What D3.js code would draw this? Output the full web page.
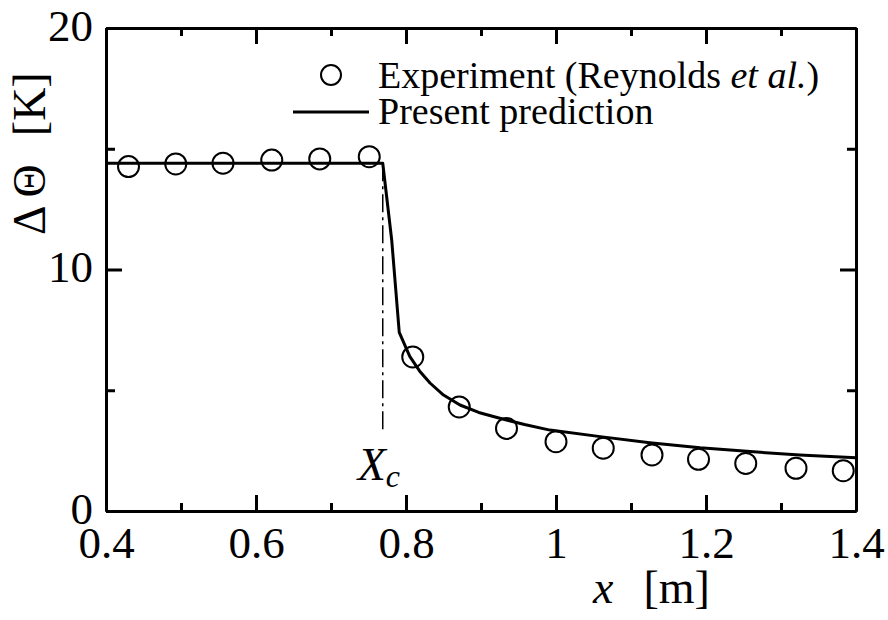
<!DOCTYPE html>
<html>
<head>
<meta charset="utf-8">
<script src="https://cdn.jsdelivr.net/npm/d3@7"></script>
<style>
  html, body { margin: 0; padding: 0; background: #fff; }
  text { font-family: "Liberation Serif", "Times New Roman", serif; fill: #000; }
</style>
</head>
<body>
<div id="chart"></div>
<script>
// experiment (Reynolds et al.)
const expX = [0.430, 0.493, 0.556, 0.621, 0.685, 0.751, 0.809, 0.871, 0.934, 1.000, 1.063, 1.128, 1.190, 1.253, 1.320, 1.383];
const expY = [14.26, 14.37, 14.40, 14.53, 14.58, 14.67, 6.38, 4.31, 3.42, 2.87, 2.60, 2.32, 2.14, 1.97, 1.77, 1.67];
// present prediction
const predX = [0.4, 0.769, 0.781, 0.791, 0.805, 0.818, 0.832, 0.850, 0.872, 0.897, 0.925, 0.958, 0.992, 1.059, 1.125, 1.192, 1.259, 1.325, 1.4];
const predY = [14.4, 14.4, 11.2, 7.4, 6.40, 5.80, 5.30, 4.80, 4.39, 4.08, 3.84, 3.58, 3.35, 3.08, 2.83, 2.62, 2.46, 2.32, 2.20];
// critical position X_c
const xc = 0.769;
const xcRange = [3.27, 14.4];

const xMajor = [0.4, 0.6, 0.8, 1, 1.2, 1.4];
const xMinor = [0.5, 0.7, 0.9, 1.1, 1.3];
const yMajor = [0, 10, 20];
const yMinor = [5, 15];

const margin = { top: 28, right: 32, bottom: 109, left: 106 };
const width = 888 - margin.left - margin.right;
const height = 620 - margin.top - margin.bottom;

const svg = d3.select("#chart").append("svg")
  .attr("width", 888)
  .attr("height", 620);
const g = svg.append("g")
  .attr("transform", `translate(${margin.left},${margin.top})`);

const x = d3.scaleLinear().domain([0.4, 1.4]).range([0, width]);
const y = d3.scaleLinear().domain([0, 20]).range([height, 0]);

function styleAxis(sel, labels) {
  sel.select(".domain").attr("stroke", "#000").attr("stroke-width", 3);
  sel.selectAll(".tick line").attr("stroke", "#000").attr("stroke-width", 3);
  if (!labels) sel.selectAll(".tick text").remove();
  else sel.selectAll(".tick text").style("font-size", "45px").attr("fill", "#000");
}

// bottom
g.append("g").attr("transform", `translate(0,${height})`)
  .call(d3.axisBottom(x).tickValues(xMinor).tickSizeInner(-8).tickSizeOuter(0))
  .call(s => styleAxis(s, false));
g.append("g").attr("transform", `translate(0,${height})`)
  .call(d3.axisBottom(x).tickValues(xMajor).tickFormat(d => String(d)).tickSizeInner(-16).tickSizeOuter(0).tickPadding(0))
  .call(s => { styleAxis(s, true); s.selectAll(".tick text").attr("dy", null).attr("y", 47); });
// top
g.append("g")
  .call(d3.axisTop(x).tickValues(xMinor).tickSizeInner(-8).tickSizeOuter(0))
  .call(s => styleAxis(s, false));
g.append("g")
  .call(d3.axisTop(x).tickValues(xMajor).tickSizeInner(-16).tickSizeOuter(0))
  .call(s => styleAxis(s, false));
// left
g.append("g")
  .call(d3.axisLeft(y).tickValues(yMinor).tickSizeInner(-9).tickSizeOuter(0))
  .call(s => styleAxis(s, false));
g.append("g")
  .call(d3.axisLeft(y).tickValues(yMajor).tickSizeInner(-16).tickSizeOuter(0).tickPadding(0))
  .call(s => { styleAxis(s, true); s.selectAll(".tick text").attr("dy", null).attr("y", 12).attr("x", -13); });
// right
g.append("g").attr("transform", `translate(${width},0)`)
  .call(d3.axisRight(y).tickValues(yMinor).tickSizeInner(-9).tickSizeOuter(0))
  .call(s => styleAxis(s, false));
g.append("g").attr("transform", `translate(${width},0)`)
  .call(d3.axisRight(y).tickValues(yMajor).tickSizeInner(-16).tickSizeOuter(0))
  .call(s => styleAxis(s, false));

// X_c dash-dot line
g.append("line")
  .attr("x1", x(xc)).attr("x2", x(xc))
  .attr("y1", y(xcRange[1])).attr("y2", y(xcRange[0]))
  .attr("stroke", "#000").attr("stroke-width", 1.5)
  .attr("stroke-dasharray", "18,5,3,5");

const xcLabel = g.append("text")
  .attr("x", x(xc) - 25).attr("y", y(xcRange[0]) + 48)
  .style("font-size", "46px").style("font-style", "italic");
xcLabel.append("tspan").text("X");
xcLabel.append("tspan").attr("dy", 7).style("font-size", "32px").text("c");

// prediction line
const pred = predX.map((d, i) => ({ x: d, y: predY[i] }));
g.append("path")
  .datum(pred)
  .attr("fill", "none")
  .attr("stroke", "#000")
  .attr("stroke-width", 3)
  .attr("stroke-linejoin", "round")
  .attr("d", d3.line().x(d => x(d.x)).y(d => y(d.y)));

// experiment circles
const exp = expX.map((d, i) => ({ x: d, y: expY[i] }));
g.selectAll(".pt")
  .data(exp)
  .enter()
  .append("circle")
  .attr("class", "pt")
  .attr("cx", d => x(d.x))
  .attr("cy", d => y(d.y))
  .attr("r", 10.5)
  .attr("fill", "none")
  .attr("stroke", "#000")
  .attr("stroke-width", 2);

// legend
svg.append("circle").attr("cx", 331).attr("cy", 75).attr("r", 10)
  .attr("fill", "none").attr("stroke", "#000").attr("stroke-width", 2);
const l1 = svg.append("text").attr("x", 378).attr("y", 88).style("font-size", "38px");
l1.append("tspan").text("Experiment (Reynolds ");
l1.append("tspan").style("font-style", "italic").text("et al.");
l1.append("tspan").text(")");
svg.append("line").attr("x1", 293).attr("x2", 369).attr("y1", 112).attr("y2", 112)
  .attr("stroke", "#000").attr("stroke-width", 3);
svg.append("text").attr("x", 378).attr("y", 124).style("font-size", "38px").text("Present prediction");

// axis titles
const xt = svg.append("text").attr("x", 593).attr("y", 603).style("font-size", "46px");
xt.append("tspan").style("font-style", "italic").text("x");
xt.append("tspan").attr("dx", 30).text("[m]");

const yt = svg.append("text")
  .attr("transform", "translate(45,235) rotate(-90)")
  .style("font-size", "46px");
yt.append("tspan").text("Δ");
yt.append("tspan").attr("dx", 8).text("Θ");
yt.append("tspan").attr("dx", 28).text("[K]");
</script>
</body>
</html>
